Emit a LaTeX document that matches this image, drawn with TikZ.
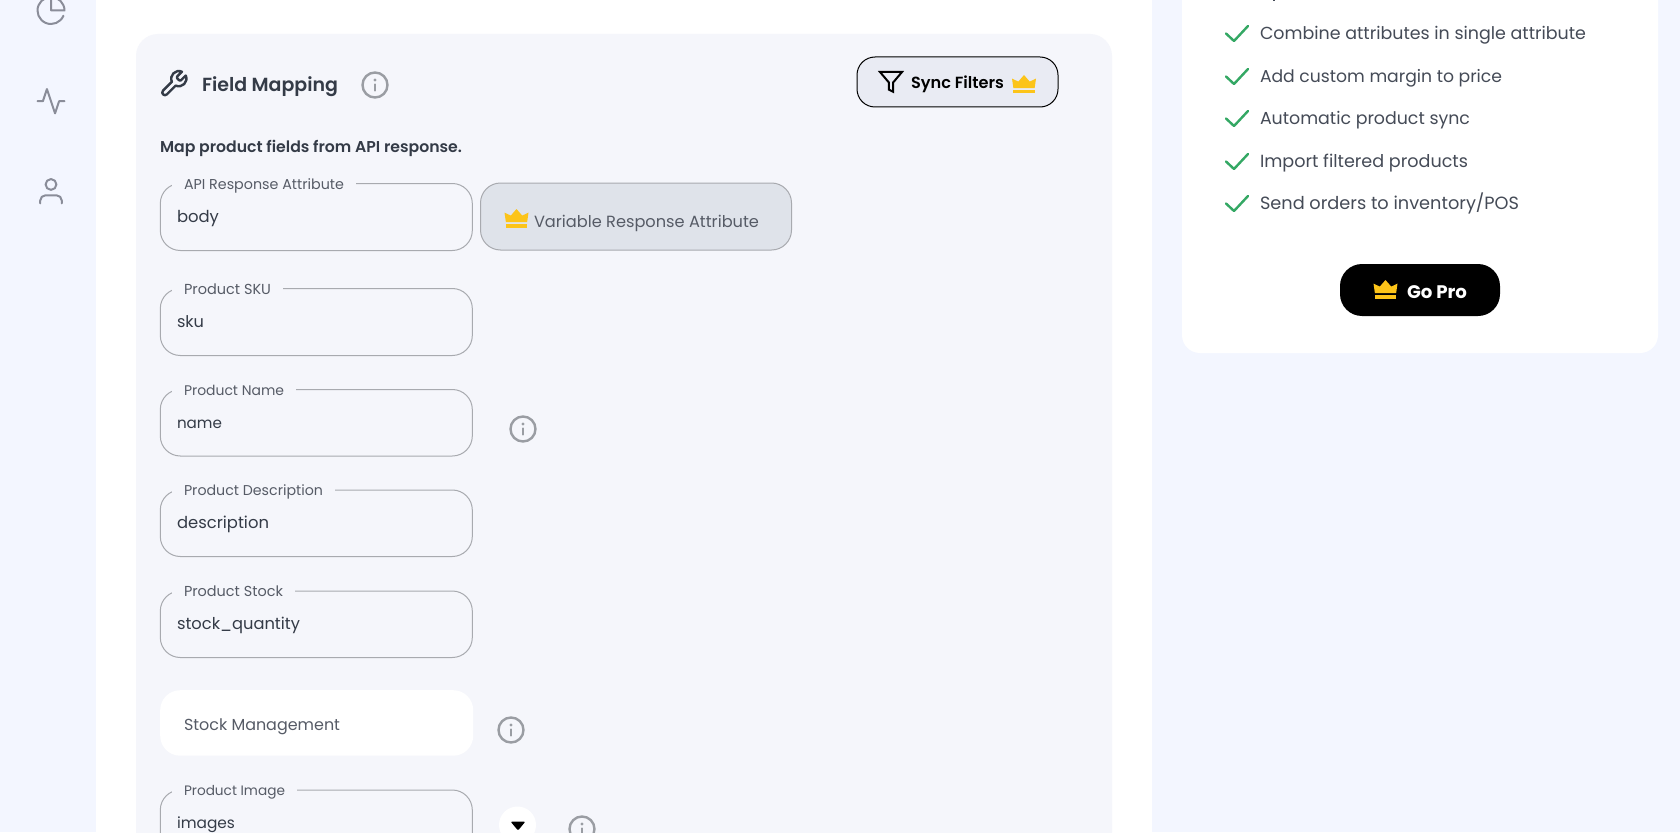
\documentclass[tikz,border=0pt]{standalone}
\usepackage{fontspec}
\usepackage{graphicx}
\setmainfont{Poppins}
\newfontfamily\semib{Poppins SemiBold}
\definecolor{sidebg}{HTML}{F3F6FF}
\definecolor{panelbg}{HTML}{F5F6FB}
\definecolor{iconmut}{HTML}{8A8D99}
\definecolor{infogray}{HTML}{9A9DA3}
\definecolor{edgegray}{HTML}{A8AAAF}
\definecolor{inktext}{HTML}{343B47}
\definecolor{listtext}{HTML}{454B57}
\definecolor{labeltext}{HTML}{565B66}
\definecolor{crowny}{HTML}{FCC419}
\definecolor{checkg}{HTML}{34A864}
\definecolor{varbg}{HTML}{DFE3EA}
\definecolor{syncbg}{HTML}{E9EBF3}
\newcommand{\tw}[2]{\resizebox{#1pt}{!}{#2}}
\tikzset{
  txt/.style={inner sep=0pt,outer sep=0pt,anchor=mid west,yshift=-3.5pt,font=\fontsize{16}{18}\selectfont},
  fieldbox/.style={draw=edgegray,line width=1pt,rounded corners=20pt,anchor=north west,inner sep=0pt,minimum width=312pt},
  fieldlabel/.style={txt,fill=panelbg,inner xsep=12pt,inner ysep=0pt,text=labeltext,text height=8pt,text depth=4pt},
  fieldvalue/.style={txt,text=inktext},
  infodisc/.style={circle,draw=infogray,line width=2.4pt,minimum size=25pt,inner sep=0pt},
  infomark/.style={draw=infogray,line width=2.4pt,line cap=round},
  lucide/.style={line width=2pt,line cap=round,line join=round,fill=none},
  tick/.style={draw=checkg,line width=2.4pt,line cap=round,line join=round},
}
\newcommand{\crown}[3]{%
  \begin{scope}[shift={(#1,#2)},scale=#3]
    \fill[crowny] (0,3.6) -- (6.3,6.6) -- (12,0) -- (17.7,6.6) -- (24,3.6) -- (22.6,13.2) -- (1.4,13.2) -- cycle;
    \fill[crowny] (1.4,14.6) rectangle (22.6,18.5);
  \end{scope}}
\newcommand{\infoicon}[3]{%
  \node[infodisc] (#1) at (#2,#3) {};
  \draw[infomark] (#2,#3-0.5) -- (#2,#3+5.5);
  \fill[infogray] (#2,#3-5) circle (1.6pt);}
\newcommand{\fieldrow}[7]{% name, top, height, label, labelwidth, value, valuewidth
  \node[fieldbox,minimum height=#3pt] (#1) at (159.8,#2) {};
  \node[fieldlabel,yshift=3.5pt] (#1lab) at (172,#2) {\raisebox{-3.5pt}{\tw{#5}{#4}}};
  \node[fieldvalue] (#1val) at (177,#2+33) {\tw{#7}{#6}};}
\newcommand{\tickrow}[4]{% name, y, text, width
  \draw[tick] (1226,#2+.5) -- (1234,#2+8) -- (1248,#2-7);
  \node[txt,text=listtext] (#1) at (1260,#2) {\tw{#4}{#3}};}
\begin{document}
\begin{tikzpicture}[x=1pt,y=1pt,yscale=-1]
\useasboundingbox (0,0) rectangle (1680,832);
\fill[sidebg] (0,0) rectangle (1680,832);
\fill[white] (96,0) rectangle (1152,832);
% panel
\fill[panelbg,rounded corners=22pt] (136,34) rectangle (1112,870);
% sidebar icons
\begin{scope}[shift={(34.8,-5.7)},scale=1.35]
  \draw[lucide,draw=iconmut] (21.21,15.89) arc (22.9:246.4:10);
  \draw[lucide,draw=iconmut] (22,12) arc (0:-90:10) -- (12,12) -- cycle;
\end{scope}
\begin{scope}[shift={(34.8,85)},scale=1.35]
  \draw[lucide,draw=iconmut] (2,12) -- (6,12) -- (9,3) -- (15,21) -- (18,12) -- (22,12);
\end{scope}
\begin{scope}[shift={(34.8,175)},scale=1.35]
  \draw[lucide,draw=iconmut] (20,21) -- (20,19) arc (0:-90:4) -- (8,15) arc (270:180:4) -- (4,21);
  \draw[lucide,draw=iconmut] (12,7) circle (4);
\end{scope}
% header
\begin{scope}[shift={(158.5,68.5)},scale=1.27]
  \draw[line width=2.4pt,draw=inktext,line join=round] (14.7,6.3) .. controls (14.3,6.7) and (14.3,7.3) .. (14.7,7.7) -- (16.3,9.3) .. controls (16.7,9.7) and (17.3,9.7) .. (17.7,9.3) -- (21.47,5.53) .. controls (23.73,10.54) and (18.54,15.73) .. (13.53,13.47) -- (6.62,20.38) .. controls (4.62,22.38) and (1.62,19.38) .. (3.62,17.38) -- (10.53,10.47) .. controls (8.27,5.46) and (13.46,0.27) .. (18.47,2.53) -- cycle;
\end{scope}
\node[txt,text=inktext] (title) at (202,85) {\tw{136}{\semib Field Mapping}};
\infoicon{infotitle}{375}{85}
\node[txt,text=inktext] (subtitle) at (160,146) {\tw{302}{\semib Map product fields from API response.}};
% sync button
\node[draw=black,fill=syncbg,line width=1pt,rounded corners=18pt,minimum width=201pt,minimum height=50pt,inner sep=0pt] (sync) at (957.5,82) {};
\begin{scope}[shift={(877.8,68.7)},scale=1.1]
  \draw[line width=2pt,line join=miter,draw=black] (22,3) -- (2,3) -- (10,12.46) -- (10,19) -- (14,21) -- (14,12.46) -- cycle;
\end{scope}
\node[txt,text=black] (synctext) at (911,82) {\tw{93}{\semib Sync Filters}};
\crown{1012}{75}{1}
% fields
\fieldrow{fattr}{183}{67}{API Response Attribute}{160}{body}{42}
\node[draw=edgegray,fill=varbg,line width=1pt,rounded corners=20pt,minimum width=311pt,minimum height=67pt,inner sep=0pt] (varattr) at (636,216.5) {};
\crown{504.5}{209}{1}
\node[txt,text=labeltext] (vartext) at (534,221) {\tw{225}{Variable Response Attribute}};
\fieldrow{fsku}{288}{67}{Product SKU}{87}{sku}{27}
\fieldrow{fname}{389}{66.5}{Product Name}{100}{name}{45}
\infoicon{infoname}{523}{429}
\fieldrow{fdesc}{489.5}{66.5}{Product Description}{139}{description}{92}
\fieldrow{fstock}{590.5}{66.5}{Product Stock}{99}{stock\_quantity}{123}
\node[fill=white,rounded corners=20pt,minimum width=313pt,minimum height=65.5pt,inner sep=0pt,anchor=north west] (stockmgmt) at (160,690) {};
\node[txt,text=labeltext] (stocktext) at (184,724) {\tw{156}{Stock Management}};
\infoicon{infostock}{511}{730}
\fieldrow{fimage}{789.5}{80}{Product Image}{101}{images}{58}
\node[circle,fill=white,minimum size=37pt,inner sep=0pt] (drop) at (517.5,825) {};
\fill[black,rounded corners=1pt] (510.7,821.7) -- (525.3,821.7) -- (518,830.5) -- cycle;
\infoicon{infoimage}{582}{829}
% right card
\fill[white,rounded corners=18pt] (1182,-30) rectangle (1658,353);
\fill[listtext] (1273,0) rectangle (1275,1);
\tickrow{r1}{33}{Combine attributes in single attribute}{326}
\tickrow{r2}{76}{Add custom margin to price}{242}
\tickrow{r3}{118}{Automatic product sync}{210}
\tickrow{r4}{161}{Import filtered products}{208}
\tickrow{r5}{203}{Send orders to inventory/POS}{259}
\node[fill=black,rounded corners=22pt,minimum width=160pt,minimum height=52pt,inner sep=0pt] (gopro) at (1420,290) {};
\crown{1373.5}{280}{1}
\node[txt,text=white] (goprotext) at (1407,292) {\tw{60}{\bfseries Go Pro}};
\end{tikzpicture}
\end{document}
